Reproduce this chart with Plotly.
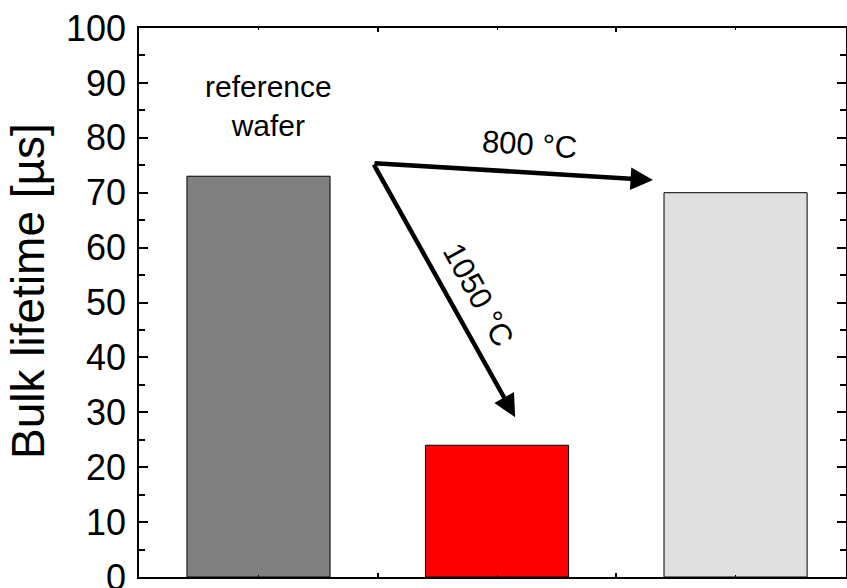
import plotly.graph_objects as go

# Bulk lifetime per sample
samples = ["reference wafer", "1050 °C", "800 °C"]
positions = [0, 1, 2]
lifetime_us = [73, 24, 70]
bar_colors = ["#808080", "#ff0000", "#dfdfdf"]

y_ticks = list(range(0, 101, 10))

FONT = "Liberation Sans, Arial, sans-serif"

fig = go.Figure()
fig.add_trace(go.Bar(
    x=positions,
    y=lifetime_us,
    width=0.6,
    marker=dict(color=bar_colors, line=dict(color="#000000", width=1)),
    hoverinfo="skip",
    showlegend=False,
))

# arrows from a common origin towards the annealed samples
origin = (0.48, 75.4)
arrow_tips = [(1.654, 72.3), (1.076, 29.1)]
for tx, ty in arrow_tips:
    fig.add_annotation(
        x=tx, y=ty, ax=origin[0], ay=origin[1],
        xref="x", yref="y", axref="x", ayref="y",
        showarrow=True, arrowhead=2, arrowsize=1, arrowwidth=4.5,
        arrowcolor="#000000", text="",
    )

fig.add_annotation(x=0.04, y=85.8, xref="x", yref="y", text="reference<br>wafer",
                   showarrow=False, font=dict(family=FONT, size=30, color="#000"))
fig.add_annotation(x=1.138, y=78.7, xref="x", yref="y", text="800 °C", textangle=4,
                   showarrow=False, font=dict(family=FONT, size=31, color="#000"))
fig.add_annotation(x=0.92, y=51.4, xref="x", yref="y", text="1050 °C", textangle=61,
                   showarrow=False, font=dict(family=FONT, size=31, color="#000"))

# y-axis title
fig.add_annotation(x=-0.157, y=0.521, xref="paper", yref="paper", text="Bulk lifetime [µs]",
                   xanchor="center", yanchor="middle",
                   textangle=-90, showarrow=False, font=dict(family=FONT, size=46, color="#000"))

fig.update_layout(
    width=847, height=588,
    margin=dict(l=139, r=1, t=28, b=11, autoexpand=False),
    paper_bgcolor="white", plot_bgcolor="white",
    font=dict(family=FONT, color="#000"),
    bargap=0.4,
)
fig.update_xaxes(
    range=[-0.501, 2.463], automargin=False,
    showline=True, linecolor="#000", linewidth=1.5, mirror="ticks",
    showgrid=False, zeroline=False, showticklabels=False,
    tickmode="array", tickvals=[0.5, 1.5], ticks="inside", ticklen=4,
    tickwidth=1.5, tickcolor="#000",
    minor=dict(tickmode="array", tickvals=positions, ticks="inside", ticklen=2,
               tickwidth=1, tickcolor="#000"),
)
fig.update_yaxes(
    range=[0, 100], automargin=False,
    showline=True, linecolor="#000", linewidth=1.5, mirror="ticks",
    showgrid=False, zeroline=False,
    tickmode="array", tickvals=y_ticks, ticks="inside", ticklen=9,
    tickwidth=1.5, tickcolor="#000",
    tickfont=dict(family=FONT, size=36, color="#000"),
    ticklabelstandoff=4, ticklabeloverflow="allow",
    minor=dict(dtick=5, tick0=0, ticks="inside", ticklen=6, tickwidth=1.5, tickcolor="#000"),
)

fig.write_html("out.html")
